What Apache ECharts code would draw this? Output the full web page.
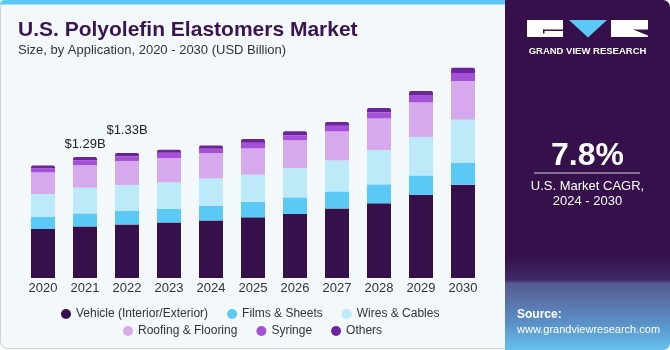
<!DOCTYPE html>
<html>
<head>
<meta charset="utf-8">
<script src="https://cdn.jsdelivr.net/npm/echarts@6/dist/echarts.min.js"></script>
<style>
  html, body { margin: 0; padding: 0; background: #fff; }
  #chart { width: 670px; height: 350px; }
</style>
</head>
<body>
<div id="chart"></div>
<script>
var years = ['2020', '2021', '2022', '2023', '2024', '2025', '2026', '2027', '2028', '2029', '2030'];
var vehicle = [0.521, 0.549, 0.570, 0.591, 0.613, 0.645, 0.681, 0.740, 0.794, 0.886, 0.993];
var films   = [0.128, 0.138, 0.143, 0.146, 0.156, 0.164, 0.177, 0.181, 0.202, 0.205, 0.234];
var wires   = [0.245, 0.273, 0.277, 0.280, 0.290, 0.290, 0.313, 0.330, 0.366, 0.409, 0.457];
var roofing = [0.230, 0.241, 0.255, 0.260, 0.270, 0.280, 0.294, 0.309, 0.336, 0.368, 0.412];
var syringe = [0.043, 0.053, 0.049, 0.056, 0.046, 0.061, 0.053, 0.061, 0.064, 0.074, 0.085];
var others  = [0.029, 0.032, 0.036, 0.032, 0.035, 0.039, 0.043, 0.039, 0.047, 0.047, 0.056];
var totalLabels = ['', '$1.29B', '$1.33B', '', '', '', '', '', '', '', ''];
var labelGap = [0, 6, 16, 0, 0, 0, 0, 0, 0, 0, 0];

var names = ['Vehicle (Interior/Exterior)', 'Films & Sheets', 'Wires & Cables',
  'Roofing & Flooring', 'Syringe', 'Others'];
var colors = ['#36104a', '#5bc9f5', '#bdeaf9', '#d6a9ec', '#a64fd8', '#6c249c'];
var values = [vehicle, films, wires, roofing, syringe, others];

var chartDom = document.getElementById('chart');
var myChart = echarts.init(chartDom);

var series = names.map(function (n, i) {
  var s = {
    name: n,
    type: 'bar',
    stack: 'total',
    barWidth: 24,
    itemStyle: { color: colors[i] },
    data: values[i].slice()
  };
  if (i === names.length - 1) {
    s.itemStyle.borderRadius = [2, 2, 0, 0];
    s.data = values[i].map(function (v, k) {
      return {
        value: v,
        label: {
          show: totalLabels[k] !== '',
          position: 'top',
          distance: labelGap[k],
          formatter: totalLabels[k],
          color: '#222',
          fontSize: 13,
          fontFamily: 'Liberation Sans'
        }
      };
    });
  }
  return s;
});

var option = {
  backgroundColor: '#ffffff',
  animation: false,
  title: {
    text: 'U.S. Polyolefin Elastomers Market',
    subtext: 'Size, by Application, 2020 - 2030 (USD Billion)',
    left: 13,
    top: 15,
    itemGap: 3,
    textStyle: { fontSize: 21, fontWeight: 'bold', color: '#3a1450', fontFamily: 'Liberation Sans' },
    subtextStyle: { fontSize: 13, color: '#333', fontFamily: 'Liberation Sans' }
  },
  legend: [
    {
      data: names.slice(0, 3),
      left: 56,
      top: 303,
      icon: 'circle',
      itemWidth: 10,
      itemHeight: 10,
      itemGap: 19,
      textStyle: { fontSize: 12, color: '#333', fontFamily: 'Liberation Sans' }
    },
    {
      data: names.slice(3),
      left: 118,
      top: 320,
      icon: 'circle',
      itemWidth: 10,
      itemHeight: 10,
      itemGap: 19,
      textStyle: { fontSize: 12, color: '#333', fontFamily: 'Liberation Sans' }
    }
  ],
  grid: { left: 22, width: 462, top: 43, height: 235 },
  xAxis: {
    type: 'category',
    data: years,
    axisLine: { show: false },
    axisTick: { show: false },
    axisLabel: { margin: 4, fontSize: 13, color: '#333', fontFamily: 'Liberation Sans' }
  },
  yAxis: {
    type: 'value',
    min: 0,
    max: 2.5,
    show: false,
    splitLine: { show: false }
  },
  graphic: [
    { type: 'rect', z: -10, shape: { x: 0.5, y: 0.5, width: 515, height: 348, r: 7 },
      style: { fill: '#f3f8fb', stroke: '#cfcfcf', lineWidth: 1 } },
    { type: 'rect', z: -9, shape: { x: 0, y: 0, width: 512, height: 4.5, r: [6, 0, 0, 0] },
      style: { fill: '#5bc9f5' } },
    { type: 'rect', z: 20, shape: { x: 505, y: 0, width: 165, height: 350, r: [0, 7, 7, 0] },
      style: {
        fill: new echarts.graphic.LinearGradient(0, 0, 0, 1, [
          { offset: 0, color: '#36104a' },
          { offset: 0.73, color: '#36104a' },
          { offset: 0.8, color: '#3f2866' },
          { offset: 0.81, color: '#585a92' },
          { offset: 0.92, color: '#5a8fc6' },
          { offset: 1, color: '#66c1ec' }
        ])
      } },
    // logo
    { type: 'rect', z: 21, shape: { x: 527, y: 20, width: 36, height: 17 }, style: { fill: '#fff' } },
    { type: 'rect', z: 22, shape: { x: 543, y: 29.5, width: 20, height: 1.5 }, style: { fill: '#36104a' } },
    { type: 'rect', z: 22, shape: { x: 543, y: 29.5, width: 1.5, height: 4 }, style: { fill: '#36104a' } },
    { type: 'polygon', z: 21, shape: { points: [[569, 20], [607, 20], [588, 37.5]] }, style: { fill: '#5bc9f5' } },
    { type: 'rect', z: 21, shape: { x: 611, y: 20, width: 37, height: 17 }, style: { fill: '#fff' } },
    { type: 'polygon', z: 22, shape: { points: [[633, 29.5], [648, 29.5], [648, 35.5]] }, style: { fill: '#36104a' } },
    { type: 'text', z: 21, x: 587.5, y: 51.5,
      style: { text: 'GRAND VIEW RESEARCH', fill: '#fff', font: 'bold 9.5px "Liberation Sans"',
        align: 'center', verticalAlign: 'middle' } },
    { type: 'text', z: 21, x: 587.5, y: 156,
      style: { text: '7.8%', fill: '#fff', font: 'bold 32px "Liberation Sans"',
        align: 'center', verticalAlign: 'middle' } },
    { type: 'rect', z: 21, shape: { x: 534, y: 172.5, width: 106, height: 1 }, style: { fill: '#d8cfe0' } },
    { type: 'text', z: 21, x: 587.5, y: 186,
      style: { text: 'U.S. Market CAGR,', fill: '#fff', font: '13px "Liberation Sans"',
        align: 'center', verticalAlign: 'middle' } },
    { type: 'text', z: 21, x: 587.5, y: 201,
      style: { text: '2024 - 2030', fill: '#fff', font: '13px "Liberation Sans"',
        align: 'center', verticalAlign: 'middle' } },
    { type: 'text', z: 21, x: 517, y: 315,
      style: { text: 'Source:', fill: '#fff', font: 'bold 12px "Liberation Sans"',
        align: 'left', verticalAlign: 'middle' } },
    { type: 'text', z: 21, x: 517, y: 329.5,
      style: { text: 'www.grandviewresearch.com', fill: '#fff', font: '11px "Liberation Sans"',
        align: 'left', verticalAlign: 'middle' } }
  ],
  series: series
};
myChart.setOption(option);
</script>
</body>
</html>
